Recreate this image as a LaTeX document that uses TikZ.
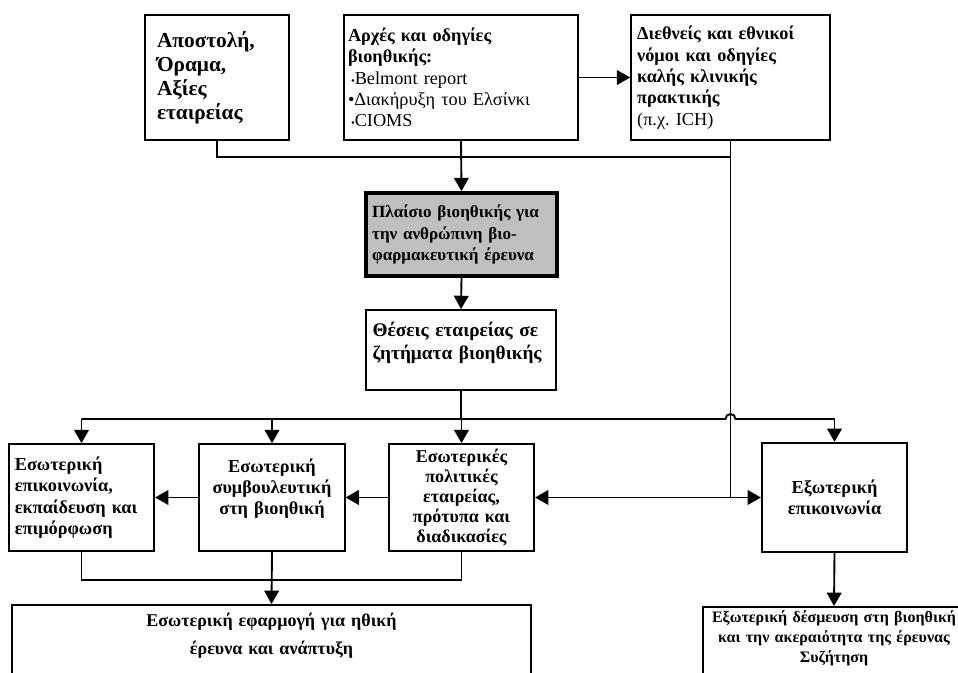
\documentclass[tikz,border=0pt]{standalone}
\usepackage{fontspec}
\setmainfont{Liberation Serif}
\usetikzlibrary{arrows.meta,calc,positioning}
\newcommand{\pushup}[1]{\rule[-#1]{0pt}{0pt}}

\tikzset{
  bx/.style={draw, rectangle, line width=1.4pt, inner xsep=4.5pt, inner ysep=3pt,
    align=left, font=\bfseries\fontsize{13.7}{16}\selectfont},
  ctr/.style={bx, align=center},
  link/.style={line width=1.4pt},
  arr/.style={link, ->},
}

\begin{document}
\begin{tikzpicture}[x=0.75pt, y=-0.75pt, >={Triangle[length=10pt,width=11pt]}]
\useasboundingbox (0,0) rectangle (958,673);
\clip (0,0) rectangle (958,673);
% Top row
\node[bx, font=\bfseries\fontsize{16}{18}\selectfont, inner xsep=9pt, text width=90pt,
  minimum height=93.75pt] (mission) at (217,77.5)
  {Αποστολή,\\ Όραμα,\\ Αξίες\\ εταιρείας};
\node[bx, inner xsep=3pt, text width=169.5pt, minimum height=93.75pt] (principles) at (461,77.5)
  {Αρχές και οδηγίες\\ βιοηθικής:\\ \mdseries\,{\footnotesize•}Belmont report\\ •Διακήρυξη του Ελσίνκι\\ \,{\footnotesize•}CIOMS};
\node[bx, text width=140pt, minimum height=93.75pt] (laws) at (730.5,77.5)
  {Διεθνείς και εθνικοί\\ νόμοι και οδηγίες\\ καλής κλινικής\\ πρακτικής\\ \mdseries (π.χ.\ ICH)};
% Framework and positions
\node[bx, font=\bfseries\fontsize{12.8}{16}\selectfont, line width=3pt, fill=black!25,
  text width=134pt, minimum height=62pt] (framework) at (461.5,234.5)
  {Πλαίσιο βιοηθικής για\\ την ανθρώπινη βιο-\\ φαρμακευτική έρευνα};
\node[bx, font=\bfseries\fontsize{14.5}{17}\selectfont, inner xsep=5pt, text width=132.5pt,
  minimum height=60pt] (positions) at (461,350)
  {Θέσεις εταιρείας σε\\ ζητήματα βιοηθικής\pushup{14pt}};
% Middle row
\node[bx, text width=100pt, minimum height=80pt] (intcomm) at (81.5,497.5)
  {Εσωτερική\\ επικοινωνία,\\ εκπαίδευση και\\ επιμόρφωση};
\node[ctr, text width=100pt, minimum height=80pt] (advice) at (272,497.5)
  {Εσωτερική\\ συμβουλευτική\\ στη βιοηθική\pushup{16pt}};
\node[ctr, font=\bfseries\fontsize{13.5}{15}\selectfont, text width=100pt, minimum height=80pt] (policies) at (461.5,497.5)
  {Εσωτερικές\\ πολιτικές\\ εταιρείας,\\ πρότυπα και\\ διαδικασίες};
\node[ctr, text width=100pt, minimum height=82pt] (extcomm) at (834.5,497.5)
  {Εξωτερική\\ επικοινωνία};
% Bottom row (cut off by the page)
\node[ctr, anchor=north, font=\bfseries\fontsize{13.5}{21}\selectfont, text width=380pt,
  inner ysep=6pt] (intapp) at (271.5,604)
  {Εσωτερική εφαρμογή για ηθική\\ έρευνα και ανάπτυξη\pushup{60pt}};
\node[ctr, anchor=north, font=\bfseries\fontsize{12}{15}\selectfont, text width=188pt,
  inner ysep=3pt] (extcommit) at (834,606)
  {Εξωτερική δέσμευση στη βιοηθική\\ και την ακεραιότητα της έρευνας\\ Συζήτηση\pushup{40pt}};
% Bus lines
\coordinate (topbus) at (0,157);
\coordinate (bus) at (0,419);
\coordinate (lowbus) at (0,580);
% Top connectors
\draw[link] (mission.south) |- (topbus -| laws.south);
\draw[arr] (principles.south) -- (framework.north);
\draw[arr] (principles.east) -- (principles.east -| laws.west);
\draw[link] (laws.south) -- (laws.south |- policies.east);
\draw[arr] (framework.south) -- (positions.north);
% Distribution to the middle row
\draw[link] (positions.south) -- (positions.south |- bus);
\draw[link] (intcomm.north |- bus) -- ($(laws.south |- bus)+(-5,0)$) arc (180:360:5) -- (extcomm.north |- bus);
\foreach \n in {intcomm,advice,policies,extcomm}
  \draw[arr] (\n.north |- bus) -- (\n.north);
\draw[arr] (advice.west) -- (intcomm.east);
\draw[arr] (policies.west) -- (advice.east);
\draw[link, <->] (policies.east) -- (extcomm.west);
% Bottom connectors
\draw[link] (intcomm.south) |- (lowbus -| policies.south) -- (policies.south);
\draw[arr] (advice.south) -- (intapp.north);
\draw[arr] (extcomm.south) -- (extcommit.north);
\end{tikzpicture}
\end{document}
